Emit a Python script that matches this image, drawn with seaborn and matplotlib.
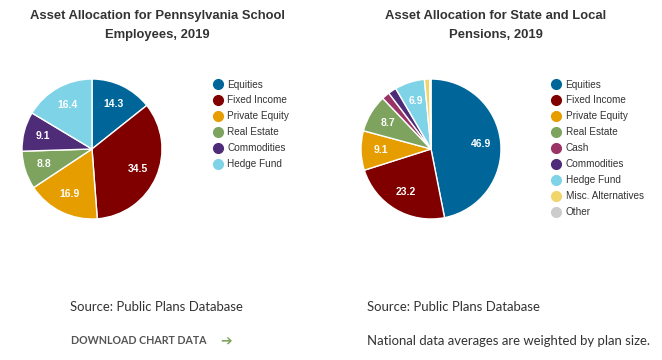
import matplotlib
matplotlib.use("Agg")
import matplotlib.pyplot as plt
from matplotlib.lines import Line2D
import seaborn as sns

# ---- data ----
pa_categories = ["Equities", "Fixed Income", "Private Equity", "Real Estate",
                 "Commodities", "Hedge Fund"]
pa_values = [14.3, 34.5, 16.9, 8.8, 9.1, 16.4]

nat_categories = ["Equities", "Fixed Income", "Private Equity", "Real Estate",
                  "Cash", "Commodities", "Hedge Fund", "Misc. Alternatives", "Other"]
nat_values = [46.9, 23.2, 9.1, 8.7, 1.8, 1.9, 6.9, 1.2, 0.3]

title_left = "Asset Allocation for Pennsylvania School\nEmployees, 2019"
title_right = "Asset Allocation for State and Local\nPensions, 2019"
source_text = "Source: Public Plans Database"
download_text = "DOWNLOAD CHART DATA"
note_text = "National data averages are weighted by plan size."

color_map = {
    "Equities": "#00669a",
    "Fixed Income": "#800000",
    "Private Equity": "#e69d00",
    "Real Estate": "#7ea35f",
    "Cash": "#9a3366",
    "Commodities": "#4e2c78",
    "Hedge Fund": "#7fd3e7",
    "Misc. Alternatives": "#f0d66a",
    "Other": "#cccccc",
}

sns.set_theme(style="white")
plt.rcParams["font.family"] = ["Liberation Sans", "DejaVu Sans"]

W, H = 662, 360
fig = plt.figure(figsize=(W / 100, H / 100), dpi=100)
fig.patch.set_facecolor("white")


def px_axes(cx, cy, r):
    return fig.add_axes([(cx - r) / W, (H - cy - r) / H, 2 * r / W, 2 * r / H])


def draw_pie(ax, cats, vals, min_label):
    pal = sns.color_palette([color_map[c] for c in cats])
    total = sum(vals)

    def fmt(p):
        v = p * total / 100.0
        return f"{v:.1f}" if v >= min_label else ""

    wedges, texts, autotexts = ax.pie(
        vals, colors=pal, startangle=90, counterclock=False, radius=1.0,
        wedgeprops=dict(edgecolor="white", linewidth=1.0),
        autopct=fmt, pctdistance=0.72,
        textprops=dict(color="white", fontsize=7.5, fontweight="bold"))
    for w in wedges:
        w.set_clip_on(False)
    ax.set_xlim(-1, 1)
    ax.set_ylim(-1, 1)
    ax.set_aspect("equal")
    ax.axis("off")
    return pal


def draw_legend(cats, pal, x, y):
    handles = [Line2D([], [], marker="o", linestyle="", markersize=7,
                      markerfacecolor=c, markeredgecolor=c) for c in pal]
    fig.legend(handles, cats, loc="upper left",
               bbox_to_anchor=(x / W, 1 - y / H), frameon=False,
               fontsize=7.2, labelcolor="#333333", handlelength=0.8,
               handletextpad=0.55, labelspacing=0.595, borderpad=0,
               borderaxespad=0)


ax1 = px_axes(92, 149, 70)
pal1 = draw_pie(ax1, pa_categories, pa_values, 5)
draw_legend(pa_categories, pal1, 214, 79.5)

ax2 = px_axes(431, 149, 70)
pal2 = draw_pie(ax2, nat_categories, nat_values, 5)
draw_legend(nat_categories, pal2, 552, 79.5)

title_kw = dict(ha="center", va="center", fontsize=9.4, fontweight="bold",
                color="#333333", linespacing=1.75)
fig.text(157 / W, 1 - 25.5 / H, title_left, **title_kw)
fig.text(496 / W, 1 - 25.5 / H, title_right, **title_kw)

foot_kw = dict(va="center", fontsize=9.45, color="#333333",
               family=["Lato", "DejaVu Sans"])
fig.text(70 / W, 1 - 307 / H, source_text, **foot_kw)
fig.text(367 / W, 1 - 307 / H, source_text, **foot_kw)
fig.text(367 / W, 1 - 341 / H, note_text, **foot_kw)
fig.text(71 / W, 1 - 341 / H, download_text, va="center", fontsize=7.65,
         fontweight="bold", color="#555555", family=["Lato", "DejaVu Sans"])
fig.text(226 / W, 1 - 341 / H, "\u2794", va="center", ha="center",
         fontsize=10, color="#7ea35f", family=["DejaVu Sans"])

fig.savefig("out.png", dpi=100, facecolor="white")
